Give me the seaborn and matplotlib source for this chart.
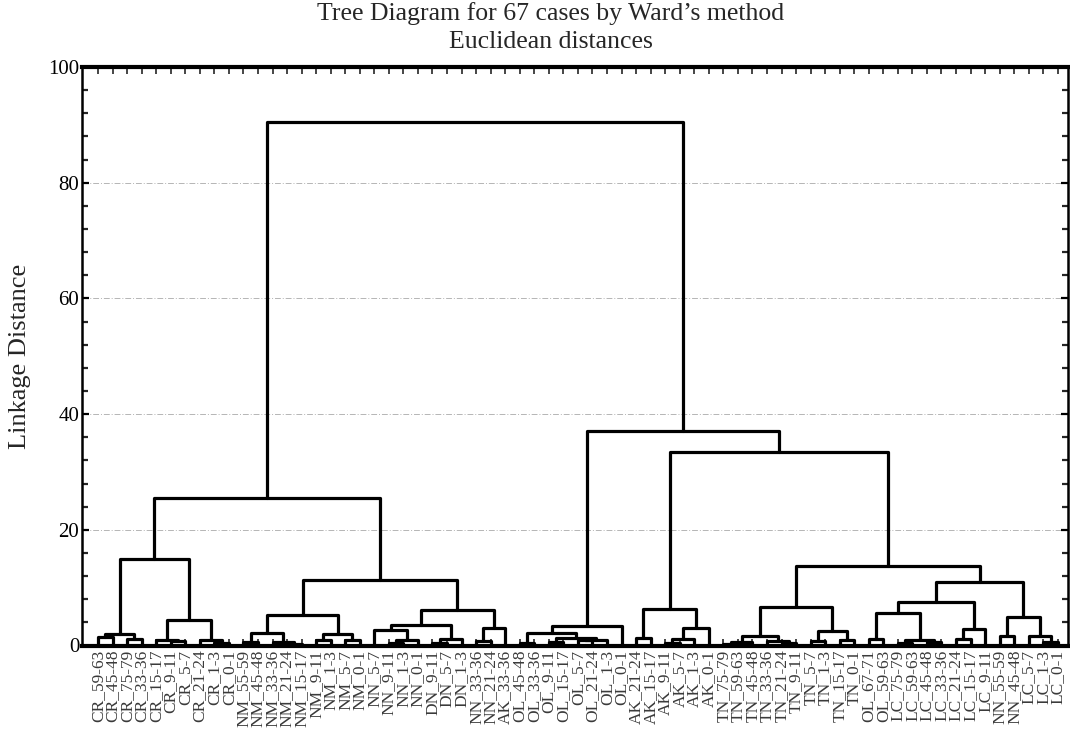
import numpy as np
import pandas as pd
import matplotlib
matplotlib.use("Agg")
import matplotlib.pyplot as plt
import seaborn as sns
from matplotlib.ticker import MultipleLocator

# ---------------- data ----------------
labels = [
    "CR_59-63", "CR_45-48", "CR_75-79", "CR_33-36", "CR_15-17", "CR_9-11", "CR_5-7",
    "CR_21-24", "CR_1-3", "CR_0-1", "NM_55-59", "NM_45-48", "NM_33-36", "NM_21-24",
    "NM_15-17", "NM_9-11", "NM_1-3", "NM_5-7", "NM_0-1", "NN_5-7", "NN_9-11", "NN_1-3",
    "NN_0-1", "DN_9-11", "DN_5-7", "DN_1-3", "NN_33-36", "NN_21-24", "AK_33-36",
    "OL_45-48", "OL_33-36", "OL_9-11", "OL_15-17", "OL_5-7", "OL_21-24", "OL_1-3",
    "OL_0-1", "AK_21-24", "AK_15-17", "AK_9-11", "AK_5-7", "AK_1-3", "AK_0-1",
    "TN_75-79", "TN_59-63", "TN_45-48", "TN_33-36", "TN_21-24", "TN_9-11", "TN_5-7",
    "TN_1-3", "TN_15-17", "TN_0-1", "OL_67-71", "OL_59-63", "LC_75-79", "LC_59-63",
    "LC_45-48", "LC_33-36", "LC_21-24", "LC_15-17", "LC_9-11", "NN_55-59", "NN_45-48",
    "LC_5-7", "LC_1-3", "LC_0-1",
]

# linkage table: ids < 67 are cases, id 67+k is the cluster formed in row k
merge_a = [0, 2, 67, 5, 4, 8, 7, 71, 69,
           10, 13, 12, 76, 15, 17, 80, 79,
           20, 84, 19, 23, 87, 86, 26, 90, 89, 83, 75,
           29, 31, 33, 97, 96, 95, 100,
           37, 39, 103, 104, 102,
           43, 107, 47, 46, 108, 49, 51, 112, 111,
           53, 55, 57, 117, 116, 59, 121, 120, 62, 65, 64, 124, 123, 115, 106, 101, 94]
merge_b = [1, 3, 68, 6, 70, 9, 72, 73, 74,
           11, 14, 77, 78, 16, 18, 81, 82,
           21, 22, 85, 24, 25, 88, 27, 28, 91, 92, 93,
           30, 32, 34, 35, 98, 99, 36,
           38, 40, 41, 42, 105,
           44, 45, 48, 109, 110, 50, 52, 113, 114,
           54, 56, 58, 118, 119, 60, 61, 122, 63, 66, 125, 126, 127, 128, 129, 130, 131]
merge_h = [1.5, 1.2, 2.0, 0.8, 0.95, 0.4, 1.0, 4.4, 14.9,
           0.6, 0.3, 0.6, 2.1, 0.95, 0.9, 2.0, 5.3,
           0.5, 0.9, 2.7, 0.5, 1.2, 3.5, 0.8, 3.1, 6.2, 11.3, 25.5,
           0.5, 0.6, 0.9, 0.95, 1.35, 2.2, 3.4,
           1.25, 0.5, 1.2, 3.1, 6.3,
           0.3, 0.6, 0.4, 0.7, 1.6, 0.85, 0.95, 2.5, 6.6,
           1.2, 0.5, 0.6, 0.9, 5.7, 1.2, 2.8, 7.6, 1.6, 0.6, 1.7, 4.9, 10.9, 13.7, 33.5, 37.0, 90.5]

title_lines = ["Tree Diagram for 67 cases by Ward\u2019s method", "Euclidean distances"]
y_label = "Linkage Distance"

# ---------------- build link segments ----------------
n = len(labels)
pos = {i: float(i) for i in range(n)}
hgt = {i: 0.0 for i in range(n)}
rows = []
for k, (a, b, h) in enumerate(zip(merge_a, merge_b, merge_h)):
    cid = n + k
    xa, xb = pos[a], pos[b]
    rows += [(k, 0, xa, hgt[a]), (k, 1, xa, h), (k, 2, xb, h), (k, 3, xb, hgt[b])]
    pos[cid] = (xa + xb) / 2.0
    hgt[cid] = h
df = pd.DataFrame(rows, columns=["link", "order", "x", "y"])

# ---------------- plot ----------------
sns.set_theme(style="white")
plt.rcParams["font.family"] = ["Liberation Serif", "DejaVu Serif"]

fig = plt.figure(figsize=(10.7, 7.4), dpi=100)
ax = fig.add_axes([82 / 1070, 1 - 645.5 / 740, (1068 - 82) / 1070, (645.5 - 67) / 740])

ax.grid(axis="y", which="major", color="#b5b5b5", linestyle=(0, (6, 2, 1, 2)), linewidth=0.7, zorder=0)
sns.lineplot(data=df, x="x", y="y", units="link", estimator=None, sort=False,
             color="black", linewidth=2.3, ax=ax, legend=False, zorder=3)

ax.set_xlim(-1.1, 66.7)
ax.set_ylim(0, 100)
ax.yaxis.set_major_locator(MultipleLocator(20))
ax.yaxis.set_minor_locator(MultipleLocator(4))
ax.set_xticks(range(n))
ax.set_xticklabels(labels, rotation=90, fontsize=12.5, color="#3a3a3a")
ax.tick_params(axis="y", which="major", direction="in", length=5, width=1.6,
               left=True, right=True, labelsize=15, pad=2, colors="black")
ax.tick_params(axis="y", which="minor", direction="in", length=4, width=1.6, left=True, right=True)
ax.tick_params(axis="x", which="major", direction="in", length=5, width=1.2,
               top=True, bottom=True, pad=3)
for lab in ax.get_yticklabels():
    lab.set_color("black")

for side, lw in [("left", 1.8), ("right", 1.8), ("top", 3.0), ("bottom", 3.0)]:
    ax.spines[side].set_visible(True)
    ax.spines[side].set_color("black")
    ax.spines[side].set_linewidth(lw)

ax.set_xlabel("")
ax.set_ylabel(y_label, fontsize=19, labelpad=12)
fig.text(551 / 1070, 1 - 14 / 740, title_lines[0], ha="center", va="center", fontsize=18.5)
fig.text(551 / 1070, 1 - 42 / 740, title_lines[1], ha="center", va="center", fontsize=18.5)

fig.savefig("out.png", dpi=100)
